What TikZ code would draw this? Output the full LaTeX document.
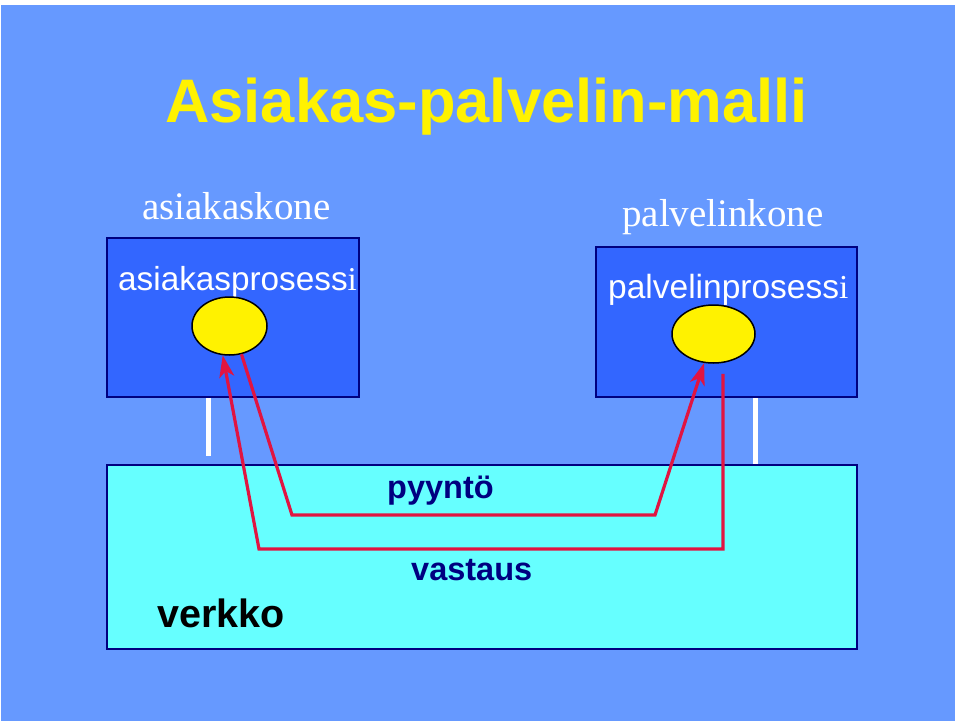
\documentclass[tikz,border=0pt]{standalone}
\usepackage{fontspec}
\setmainfont{Liberation Serif}
\setsansfont{Liberation Sans}
\definecolor{slideblue}{RGB}{102,153,255}
\definecolor{hostblue}{RGB}{51,102,255}
\definecolor{netcyan}{RGB}{102,255,255}
\definecolor{edgenavy}{RGB}{0,0,128}
\definecolor{linkred}{RGB}{225,20,65}
\usetikzlibrary{arrows.meta,positioning,shapes.geometric}

\begin{document}
\begin{tikzpicture}[x=1pt,y=-1pt,
    host/.style={rectangle,draw=edgenavy,line width=1.5pt,fill=hostblue,inner sep=0pt},
    proc/.style={ellipse,draw=black,line width=1.5pt,fill=yellow,inner sep=0pt,minimum height=58pt},
    lbl/.style={anchor=base west,inner sep=0pt},
    link/.style={linkred,line width=3.2pt,-{Stealth[length=22pt,width=15pt,inset=6pt]}},
    stub/.style={white,line width=5pt}]
        \useasboundingbox (0,0) rectangle (960,723);
        \fill[white] (0,0) rectangle (960,723);
        \fill[slideblue] (1,5) rectangle (955,721);

        \node[lbl,text=yellow,font=\sffamily\bfseries\fontsize{61.5}{70}\selectfont] (title) at (165,122) {Asiakas-palvelin-malli};

        \node[host,minimum width=252pt,minimum height=159pt] (cbox) at (233,317.5) {};
        \node[host,minimum width=261pt,minimum height=150pt] (sbox) at (726.5,322) {};
        \node[host,fill=netcyan,minimum width=750pt,minimum height=184pt] (net) at (482,557) {};

        \node[lbl,text=white,font=\fontsize{39}{44}\selectfont] (ckone) at (142,219) {asiakaskone};
        \node[lbl,text=white,font=\fontsize{39}{44}\selectfont] (skone) at (622,226) {palvelinkone};
        \node[lbl,text=white,font=\fontsize{33.3}{38}\selectfont] (ctxt) at (118,290) {{\sffamily asiakasprosess}i};
        \node[lbl,text=white,font=\fontsize{33.5}{38}\selectfont] (stxt) at (608,298) {{\sffamily palvelinprosess}i};

        \node[proc,minimum width=75pt] (cproc) at (229.5,326) {};
        \node[proc,minimum width=83pt] (sproc) at (713.5,334) {};

        \draw[stub] (208.5,398) -- (208.5,456);
        \draw[stub] (755.5,398) -- (755.5,464);

        \coordinate (req1) at (292,515);
        \coordinate (req2) at (655,515);
        \coordinate (resp1) at (723,549);
        \coordinate (resp2) at (259,549);
        \draw[link] (cproc.-67) -- (req1) -- (req2) -- (sproc);
        \draw[link,shorten <=10pt] (resp1 |- sproc.south) -- (resp1) -- (resp2) -- (cproc.-103);

        \node[lbl,text=edgenavy,font=\sffamily\bfseries\fontsize{32.5}{38}\selectfont] (req) at (387,498) {pyyntö};
        \node[lbl,text=edgenavy,font=\sffamily\bfseries\fontsize{32.5}{38}\selectfont] (resp) at (411,580) {vastaus};
        \node[lbl,text=black,font=\sffamily\bfseries\fontsize{39.5}{44}\selectfont] (verkko) at (157,627) {verkko};
      \end{tikzpicture}
\end{document}
